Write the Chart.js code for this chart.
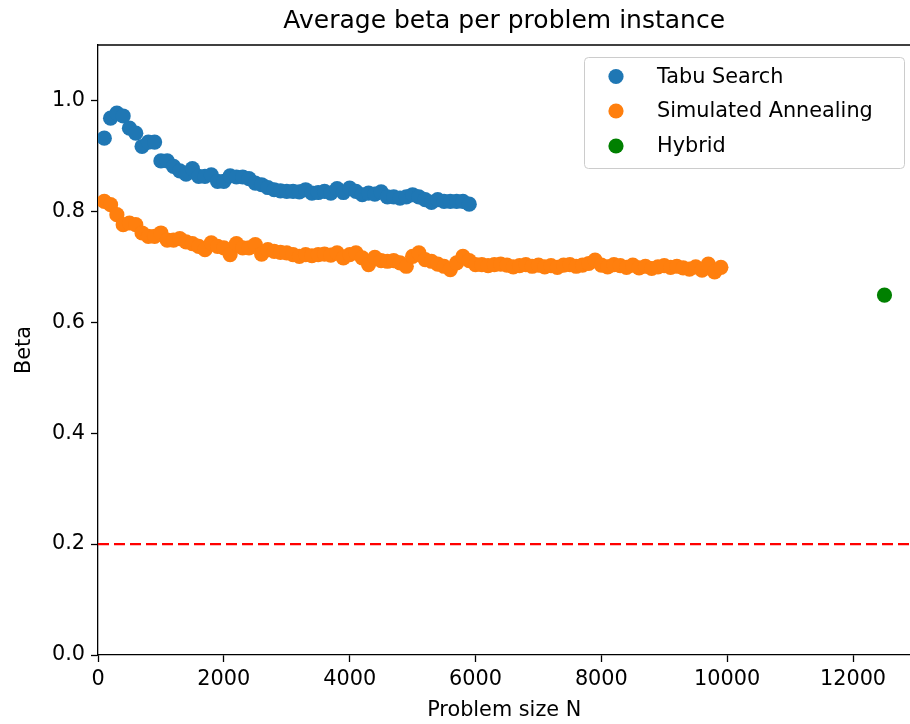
<!DOCTYPE html>
<html><head><meta charset="utf-8">
<script src="https://cdn.jsdelivr.net/npm/chart.js@4"></script>
<style>html,body{margin:0;padding:0;background:#fff;overflow:hidden;width:910px;height:724px}</style>
</head><body>
<canvas id="c" width="918" height="724"></canvas>
<script>
const tabuN = [100,200,300,400,500,600,700,800,900,1000,1100,1200,1300,1400,1500,1600,1700,1800,1900,2000,2100,2200,2300,2400,2500,2600,2700,2800,2900,3000,3100,3200,3300,3400,3500,3600,3700,3800,3900,4000,4100,4200,4300,4400,4500,4600,4700,4800,4900,5000,5100,5200,5300,5400,5500,5600,5700,5800,5900];
const tabuBeta = [0.932,0.968,0.977,0.972,0.950,0.941,0.917,0.925,0.925,0.891,0.891,0.881,0.873,0.867,0.877,0.863,0.863,0.866,0.854,0.854,0.864,0.862,0.862,0.859,0.851,0.848,0.843,0.839,0.837,0.836,0.836,0.835,0.839,0.833,0.834,0.836,0.833,0.841,0.834,0.842,0.836,0.830,0.833,0.831,0.835,0.826,0.826,0.824,0.826,0.830,0.826,0.821,0.816,0.821,0.818,0.818,0.818,0.818,0.813];
const saN = [100,200,300,400,500,600,700,800,900,1000,1100,1200,1300,1400,1500,1600,1700,1800,1900,2000,2100,2200,2300,2400,2500,2600,2700,2800,2900,3000,3100,3200,3300,3400,3500,3600,3700,3800,3900,4000,4100,4200,4300,4400,4500,4600,4700,4800,4900,5000,5100,5200,5300,5400,5500,5600,5700,5800,5900,6000,6100,6200,6300,6400,6500,6600,6700,6800,6900,7000,7100,7200,7300,7400,7500,7600,7700,7800,7900,8000,8100,8200,8300,8400,8500,8600,8700,8800,8900,9000,9100,9200,9300,9400,9500,9600,9700,9800,9900];
const saBeta = [0.818,0.812,0.794,0.776,0.779,0.776,0.761,0.755,0.755,0.761,0.748,0.748,0.751,0.745,0.742,0.737,0.731,0.743,0.737,0.734,0.722,0.742,0.734,0.734,0.740,0.723,0.731,0.728,0.726,0.725,0.722,0.719,0.722,0.720,0.722,0.723,0.721,0.725,0.716,0.722,0.725,0.716,0.704,0.717,0.711,0.710,0.711,0.707,0.701,0.719,0.725,0.713,0.710,0.705,0.701,0.695,0.707,0.719,0.711,0.704,0.704,0.702,0.704,0.705,0.703,0.700,0.702,0.704,0.701,0.703,0.700,0.702,0.699,0.703,0.704,0.701,0.703,0.706,0.712,0.703,0.700,0.704,0.702,0.699,0.703,0.698,0.701,0.697,0.700,0.702,0.699,0.701,0.698,0.696,0.700,0.694,0.705,0.691,0.699];
const hybridN = [12500];
const hybridBeta = [0.649];
const thresholdBeta = 0.2;
const xTickValues = [0,2000,4000,6000,8000,10000,12000];
const yTickValues = [0,0.2,0.4,0.6,0.8,1.0];
const xRange = [0, 12912];
const yRange = [0, 1.1];

const FONT = "'DejaVu Sans', sans-serif";
const MARKER_R = 7.6;
const toPts = (xs, ys) => xs.map((x, i) => ({x: x, y: ys[i]}));

const mplPlugin = {
  id: 'mplExtras',
  afterDraw(chart) {
    const ctx = chart.ctx, ca = chart.chartArea;
    ctx.save();
    ctx.strokeStyle = '#000'; ctx.lineWidth = 1.3;
    ctx.beginPath(); ctx.moveTo(ca.left, ca.top); ctx.lineTo(ca.right + 20, ca.top); ctx.stroke();
    // legend
    const bx = 584.5, by = 57.5, bw = 320, bh = 111, r = 4;
    ctx.beginPath();
    ctx.moveTo(bx + r, by); ctx.lineTo(bx + bw - r, by); ctx.quadraticCurveTo(bx + bw, by, bx + bw, by + r);
    ctx.lineTo(bx + bw, by + bh - r); ctx.quadraticCurveTo(bx + bw, by + bh, bx + bw - r, by + bh);
    ctx.lineTo(bx + r, by + bh); ctx.quadraticCurveTo(bx, by + bh, bx, by + bh - r);
    ctx.lineTo(bx, by + r); ctx.quadraticCurveTo(bx, by, bx + r, by);
    ctx.closePath();
    ctx.fillStyle = 'rgba(255,255,255,0.8)'; ctx.fill();
    ctx.strokeStyle = '#cccccc'; ctx.lineWidth = 1; ctx.stroke();
    const items = chart.data.datasets.filter(d => d.inLegend);
    const rows = [76.5, 111, 146];
    ctx.font = '20.8px ' + FONT; ctx.textAlign = 'left'; ctx.textBaseline = 'middle';
    items.forEach((d, i) => {
      ctx.fillStyle = d.backgroundColor;
      ctx.beginPath(); ctx.arc(616, rows[i], MARKER_R, 0, Math.PI * 2); ctx.fill();
      ctx.fillStyle = '#000';
      ctx.fillText(d.label, 657, rows[i] + 1);
    });
    ctx.restore();
  }
};

new Chart(document.getElementById('c'), {
  type: 'scatter',
  data: {
    datasets: [
      {label: 'Tabu Search', data: toPts(tabuN, tabuBeta), backgroundColor: '#1f77b4', borderWidth: 0, pointRadius: MARKER_R, pointHoverRadius: MARKER_R, inLegend: true},
      {label: 'Simulated Annealing', data: toPts(saN, saBeta), backgroundColor: '#ff7f0e', borderWidth: 0, pointRadius: MARKER_R, pointHoverRadius: MARKER_R, inLegend: true},
      {label: 'Hybrid', data: toPts(hybridN, hybridBeta), backgroundColor: '#008000', borderWidth: 0, pointRadius: MARKER_R, pointHoverRadius: MARKER_R, inLegend: true},
      {label: 'threshold', type: 'line', data: [{x: xRange[0], y: thresholdBeta}, {x: xRange[1], y: thresholdBeta}], borderColor: '#ff0000', borderWidth: 2.2, borderDash: [11, 5], pointRadius: 0, fill: false, inLegend: false}
    ]
  },
  options: {
    responsive: false,
    animation: false,
    events: [],
    layout: {padding: {left: 0, right: 0, top: 0, bottom: 0}},
    plugins: {
      legend: {display: false},
      tooltip: {enabled: false},
      title: {display: true, text: 'Average beta per problem instance', fullSize: false, color: '#000',
              font: {family: FONT, size: 25, weight: 'normal'}, padding: {top: 6, bottom: 9}}
    },
    scales: {
      x: {
        type: 'linear', min: xRange[0], max: xRange[1],
        afterFit: s => { s.height = 69; s.paddingLeft = 0; s.paddingRight = 0; },
        afterBuildTicks: s => { s.ticks = xTickValues.map(v => ({value: v})); },
        ticks: {color: '#000', font: {family: FONT, size: 20.8}, padding: 5, maxRotation: 0, autoSkip: false, callback: v => String(v)},
        grid: {display: true, drawOnChartArea: false, drawTicks: true, tickLength: 7, color: '#000', tickWidth: 1.3},
        border: {display: true, color: '#000', width: 1.3},
        title: {display: true, text: 'Problem size N', color: '#000', font: {family: FONT, size: 20.8}, padding: {top: 0, bottom: 1}}
      },
      y: {
        type: 'linear', min: yRange[0], max: yRange[1],
        afterFit: s => { s.width = 98; s.paddingTop = 0; s.paddingBottom = 0; },
        afterBuildTicks: s => { s.ticks = yTickValues.map(v => ({value: v})); },
        ticks: {color: '#000', font: {family: FONT, size: 20.8}, padding: 6, autoSkip: false, callback: v => Number(v).toFixed(1)},
        grid: {display: true, drawOnChartArea: false, drawTicks: true, tickLength: 7, color: '#000', tickWidth: 1.3},
        border: {display: true, color: '#000', width: 1.3},
        title: {display: true, text: 'Beta', color: '#000', font: {family: FONT, size: 20.8}, padding: {top: 12, bottom: 0}}
      }
    }
  },
  plugins: [mplPlugin]
});
</script>
</body></html>
